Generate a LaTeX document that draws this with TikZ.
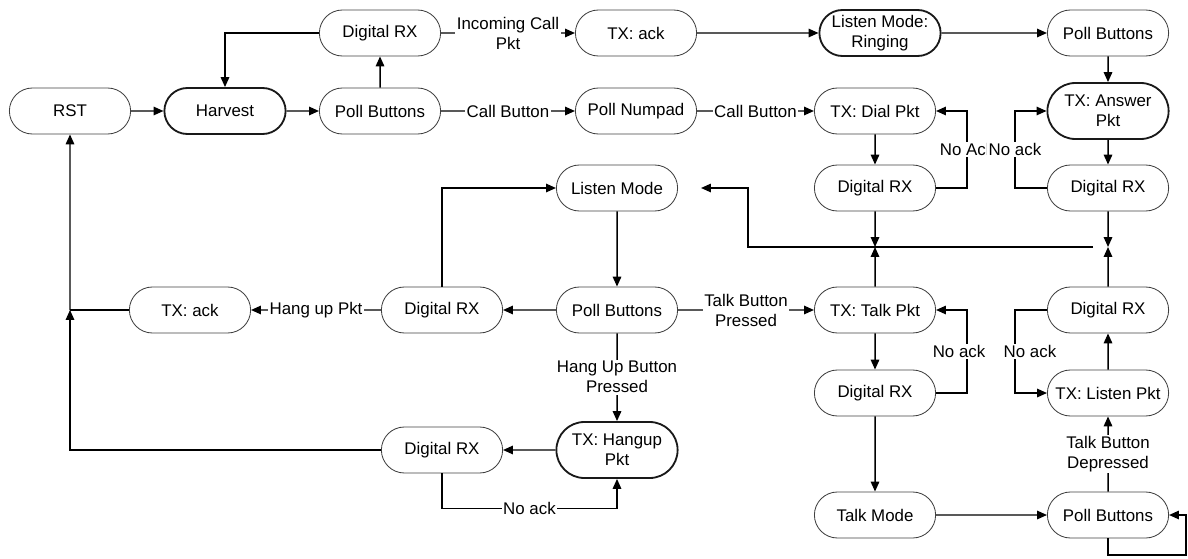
\documentclass[tikz,border=0pt]{standalone}
\usepackage{fontspec}
\setmainfont{Liberation Sans}
\usepackage{tikz}
\usetikzlibrary{shapes.misc, arrows.meta}

\begin{document}
\begin{tikzpicture}[x=0.025cm, y=-0.025cm, >={Triangle[length=7pt,width=6pt]},
                    round/.style={rounded rectangle, draw=black!75, line width=0.6pt,
                                  minimum width=3.1cm, minimum height=1.15cm,
                                  inner sep=1pt, align=center,
                                  font=\fontsize{12}{14.2}\selectfont},
                    heavy/.style={round, draw=black!90, line width=1.3pt},
                    lbl/.style={fill=white, inner sep=1pt, align=center,
                                font=\fontsize{12}{14.2}\selectfont},
                    wire/.style={line width=1.05pt}]
    \useasboundingbox (0,0) rectangle (1188,558);

    % main row
    \node[round] (rst) at (70,111) {RST};
    \node[heavy] (harvest) at (225,111) {Harvest};
    \node[round] (poll) at (380,111) {Poll Buttons};
    \node[round] (numpad) at (636,111) {Poll Numpad};
    \node[round] (txDial) at (875,111) {TX: Dial Pkt};
    \node[heavy, minimum height=1.4cm] (txAnswer) at (1108,111) {TX: Answer\\Pkt};

    % incoming call row
    \node[round] (rxIn) at (380,33) {Digital RX};
    \node[round] (txAck) at (636,33) {TX: ack};
    \node[heavy] (ringing) at (880,33) {Listen Mode:\\Ringing};
    \node[round] (pollRing) at (1108,33) {Poll Buttons};

    % listen / talk states
    \node[round] (listen) at (617,188) {Listen Mode};
    \node[round] (rxDial) at (875,188) {Digital RX};
    \node[round] (rxAnswer) at (1108,188) {Digital RX};
    \node[round] (pollListen) at (617,310) {Poll Buttons};
    \node[round] (rxHang) at (442,310) {Digital RX};
    \node[round] (txAckHang) at (190,310) {TX: ack};
    \node[round] (txTalk) at (875,310) {TX: Talk Pkt};
    \node[round] (rxListen) at (1108,310) {Digital RX};
    \node[round] (rxTalk) at (875,393) {Digital RX};
    \node[round] (txListen) at (1108,393) {TX: Listen Pkt};
    \node[heavy, minimum height=1.4cm] (txHangup) at (617,450) {TX: Hangup\\Pkt};
    \node[round] (rxHangup) at (442,450) {Digital RX};
    \node[round] (talk) at (875,515) {Talk Mode};
    \node[round] (pollTalk) at (1108,515) {Poll Buttons};

    % junctions
    \coordinate (joinL) at (875,247);
    \coordinate (joinR) at (1108,247);
    \coordinate (joinRst) at (70,310);
    \coordinate (corner) at (1186,555);

    % straight transitions
    \path[wire]
        (rst) edge[->] (harvest)
        (harvest) edge[->] (poll)
        (poll) edge[->] (rxIn)
        (rxIn) edge[->] node[lbl] {Incoming Call\\Pkt} (txAck)
        (txAck) edge[->] (ringing)
        (ringing) edge[->] (pollRing)
        (pollRing) edge[->] (txAnswer)
        (poll) edge[->] node[lbl] {Call Button} (numpad)
        (numpad) edge[->] node[lbl] {Call Button} (txDial)
        (txDial) edge[->] (rxDial)
        (txAnswer) edge[->] (rxAnswer)
        (rxDial) edge[->] (joinL)
        (txTalk) edge[->] (joinL)
        (rxAnswer) edge[->] (joinR)
        (rxListen) edge[->] (joinR)
        (listen) edge[->] (pollListen)
        (pollListen) edge[->] (rxHang)
        (rxHang) edge[->] node[lbl] {Hang up Pkt} (txAckHang)
        (pollListen) edge[->] node[lbl] {Talk Button\\Pressed} (txTalk)
        (pollListen) edge[->] node[lbl] {Hang Up Button\\Pressed} (txHangup)
        (txHangup) edge[->] (rxHangup)
        (joinRst) edge[->] (rst)
        (txTalk) edge[->] (rxTalk)
        (rxTalk) edge[->] (talk)
        (talk) edge[->] (pollTalk)
        (pollTalk) edge[->] node[lbl] {Talk Button\\Depressed} (txListen)
        (txListen) edge[->] (rxListen);

    % bent transitions
    \draw[wire, ->] (rxIn.west) -| (harvest.north);
    \draw[wire, ->] (rxDial.east) -- ++(31,0) |- node[lbl, pos=0.25] {No Ack} (txDial.east);
    \draw[wire, ->] (rxAnswer.west) -- ++(-32,0) |- node[lbl, pos=0.25] {No ack} (txAnswer.west);
    \draw[wire, ->] ([xshift=-0.375cm]joinR) -- ([xshift=-3.175cm]joinL) |- ([xshift=0.575cm]listen.east);
    \draw[wire] (txAckHang.west) -- (joinRst);
    \draw[wire, ->] (rxHangup.west) -| (joinRst);
    \draw[wire, ->] (rxHang.north) |- (listen.west);
    \draw[wire, ->] (rxHangup.south) -- ++(0,35) -| node[lbl, pos=0.25] {No ack} (txHangup.south);
    \draw[wire, ->] (rxTalk.east) -- ++(31,0) |- node[lbl, pos=0.25, xshift=-0.2cm] {No ack} (txTalk.east);
    \draw[wire, ->] (rxListen.west) -- ++(-32,0) |- node[lbl, pos=0.25, xshift=0.375cm] {No ack} (txListen.west);
    \draw[wire, ->] (pollTalk.south) |- (corner) |- (pollTalk.east);
\end{tikzpicture}
\end{document}
